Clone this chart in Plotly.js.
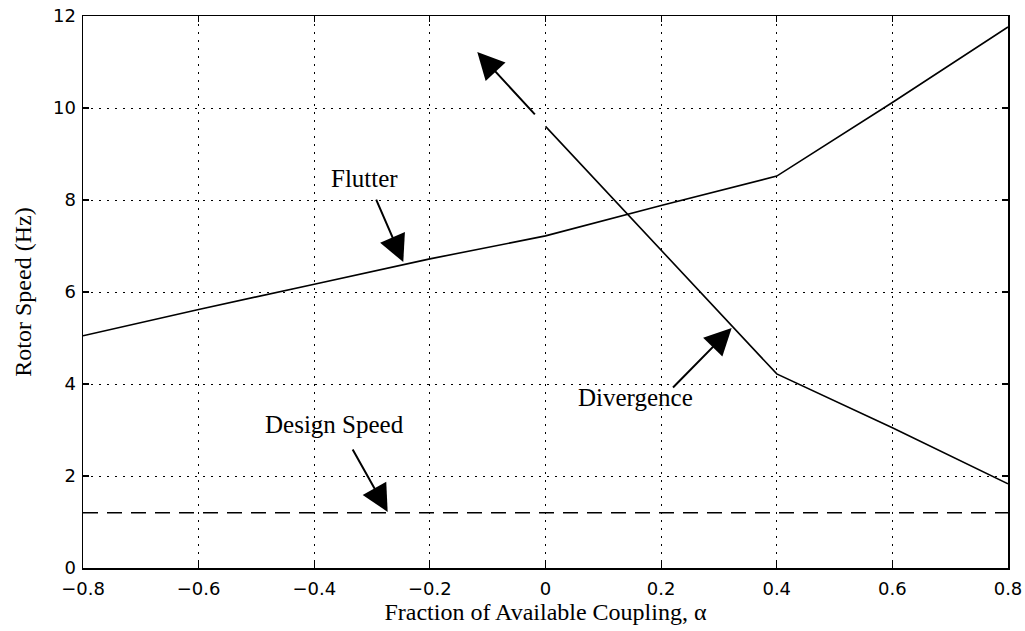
<!DOCTYPE html>
<html>
<head>
<meta charset="utf-8">
<script src="https://cdn.plot.ly/plotly-3.0.1.min.js"></script>
<style>html,body{margin:0;padding:0;background:#fff;}#chart{width:1025px;height:631px;}</style>
</head>
<body>
<div id="chart"></div>
<script>
// Flutter boundary
const flutterX = [-0.8, -0.6, -0.4, -0.2, 0.0, 0.2, 0.4, 0.6, 0.8];
const flutterY = [5.05, 5.62, 6.17, 6.72, 7.22, 7.88, 8.52, 10.12, 11.76];
// Divergence boundary
const divX = [0.0, 0.2, 0.4, 0.6, 0.8];
const divY = [9.6, 6.92, 4.22, 3.05, 1.83];
// Design speed
const designX = [-0.8, 0.8];
const designY = [1.2, 1.2];

const xTicks = [-0.8, -0.6, -0.4, -0.2, 0, 0.2, 0.4, 0.6, 0.8];
const xTickText = ['\u22120.8', '\u22120.6', '\u22120.4', '\u22120.2', '0', '0.2', '0.4', '0.6', '0.8'];
const yTicks = [0, 2, 4, 6, 8, 10, 12];

// labels: [text, x, y]
const labels = [
  ['Flutter', -0.313, 8.47],
  ['Divergence', 0.156, 3.7],
  ['Design Speed', -0.365, 3.12]
];
// arrows: [headX, headY, tailX, tailY]
const arrows = [
  [-0.246, 6.65, -0.294, 8.04],
  [0.322, 5.22, 0.218, 3.89],
  [-0.273, 1.22, -0.335, 2.61],
  [-0.118, 11.22, -0.016, 9.83]
];

const serif = 'Liberation Serif, Times New Roman, serif';
const sans = 'DejaVu Sans, Arial, sans-serif';

const traces = [
  {x: flutterX, y: flutterY, mode: 'lines', line: {color: 'black', width: 1.6}, showlegend: false, hoverinfo: 'skip'},
  {x: divX, y: divY, mode: 'lines', line: {color: 'black', width: 1.6}, showlegend: false, hoverinfo: 'skip'},
  {x: designX, y: designY, mode: 'lines', line: {color: 'black', width: 1.4, dash: '15px,9px'}, showlegend: false, hoverinfo: 'skip'}
];

const annotations = [];
labels.forEach(l => annotations.push({
  x: l[1], y: l[2], xref: 'x', yref: 'y', text: l[0], showarrow: false,
  font: {family: serif, size: 25, color: 'black'}, xanchor: 'center', yanchor: 'middle'
}));
arrows.forEach(a => annotations.push({
  x: a[0], y: a[1], ax: a[2], ay: a[3], xref: 'x', yref: 'y', axref: 'x', ayref: 'y',
  text: '', showarrow: true, arrowhead: 2, arrowsize: 2.7, arrowwidth: 2, arrowcolor: 'black', standoff: 0
}));

const axisCommon = {
  showline: true, linecolor: 'black', linewidth: 1.5, mirror: 'ticks',
  ticks: 'inside', ticklen: 6, tickwidth: 1.2, tickcolor: 'black',
  showgrid: true, gridcolor: 'black', gridwidth: 1, griddash: '2px,6px',
  zeroline: false, tickfont: {family: sans, size: 18, color: 'black'}
};

const layout = {
  width: 1025, height: 631,
  margin: {l: 83, r: 17, t: 16, b: 63},
  paper_bgcolor: 'white', plot_bgcolor: 'white',
  xaxis: Object.assign({}, axisCommon, {
    range: [-0.8, 0.8], tickmode: 'array', tickvals: xTicks, ticktext: xTickText,
    ticklabelstandoff: 4,
    title: {text: 'Fraction of Available Coupling, \u03B1', font: {family: serif, size: 24, color: 'black'}, standoff: 0}
  }),
  yaxis: Object.assign({}, axisCommon, {
    range: [0, 12], tickmode: 'array', tickvals: yTicks,
    ticklabelstandoff: 2,
    title: {text: 'Rotor Speed (Hz)', font: {family: serif, size: 24, color: 'black'}, standoff: 14}
  }),
  annotations: annotations
};

Plotly.newPlot('chart', traces, layout, {staticPlot: true, displayModeBar: false});
</script>
</body>
</html>
